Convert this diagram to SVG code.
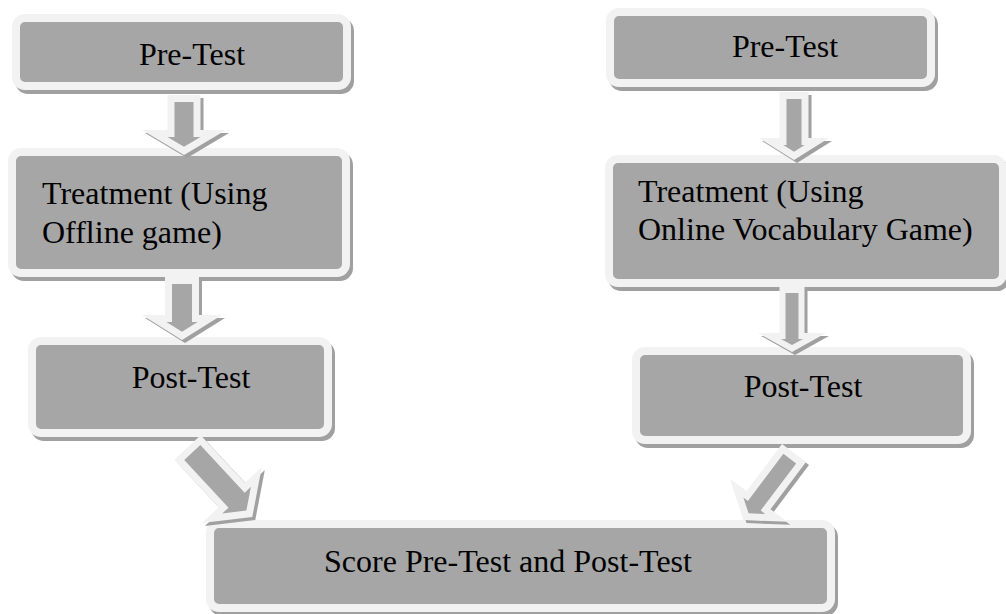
<svg xmlns="http://www.w3.org/2000/svg" width="1006" height="614" viewBox="0 0 1006 614">
<style>
.bs{fill:#a0a0a0;stroke:#a0a0a0;stroke-width:8}
.bx{fill:#a6a6a6;stroke:#f2f2f2;stroke-width:8}
.ash{fill:#a0a0a0}
.ao{fill:#f2f2f2}
.ai{fill:#a6a6a6}
.t{font-family:"Liberation Serif","Times New Roman",serif;font-size:32px;fill:#000}
</style>
<rect width="1006" height="614" fill="#ffffff"/>
<g id="nodes">
<g id="n-pre-left">
<rect class="bs" x="19" y="22" width="331" height="68" rx="9"/>
<rect class="bx" x="16" y="18" width="331" height="68" rx="9"/>
<text class="t" x="192" y="65" text-anchor="middle">Pre-Test</text>
</g>
<g id="n-treat-left">
<rect class="bs" x="15" y="156" width="334" height="121" rx="9"/>
<rect class="bx" x="12" y="152" width="334" height="121" rx="9"/>
<text class="t" x="42" y="204">Treatment (Using</text>
<text class="t" x="42" y="243">Offline game)</text>
</g>
<g id="n-post-left">
<rect class="bs" x="35" y="345" width="296" height="92" rx="9"/>
<rect class="bx" x="32" y="341" width="296" height="92" rx="9"/>
<text class="t" x="191" y="388" text-anchor="middle">Post-Test</text>
</g>
<g id="n-pre-right">
<rect class="bs" x="613" y="16" width="321" height="71" rx="9"/>
<rect class="bx" x="610" y="12" width="321" height="71" rx="9"/>
<text class="t" x="785" y="57" text-anchor="middle">Pre-Test</text>
</g>
<g id="n-treat-right">
<rect class="bs" x="612" y="163" width="394" height="124" rx="9"/>
<rect class="bx" x="609" y="159" width="394" height="124" rx="9"/>
<text class="t" x="638" y="202">Treatment (Using</text>
<text class="t" x="638" y="240">Online Vocabulary Game)</text>
</g>
<g id="n-post-right">
<rect class="bs" x="639" y="355" width="331" height="89" rx="9"/>
<rect class="bx" x="636" y="351" width="331" height="89" rx="9"/>
<text class="t" x="803" y="397" text-anchor="middle">Post-Test</text>
</g>
<g id="n-score">
<rect class="bs" x="213" y="528" width="621" height="84" rx="9"/>
<rect class="bx" x="210" y="524" width="621" height="84" rx="9"/>
<text class="t" x="508" y="572" text-anchor="middle">Score Pre-Test and Post-Test</text>
</g>
</g>
<g id="connectors">
<g transform="translate(187,98)"><polygon class="ash" points="-16.5,0 16.5,0 16.5,35 42,35 0,60 -42,35 -16.5,35"/></g>
<g transform="translate(184,95)">
<polygon class="ao" points="-16.5,0 16.5,0 16.5,35 42,35 0,60 -42,35 -16.5,35"/>
<polygon class="ai" points="-9.5,7 9.5,7 9.5,42 16.5,42 0,51.8 -16.5,42 -9.5,42"/>
</g>
<g transform="translate(185,280)"><polygon class="ash" points="-17,0 17,0 17,38 40,38 0,63 -40,38 -17,38"/></g>
<g transform="translate(182,277)">
<polygon class="ao" points="-17,0 17,0 17,38 40,38 0,63 -40,38 -17,38"/>
<polygon class="ai" points="-10,7 10,7 10,45 15.6,45 0,54.7 -15.6,45 -10,45"/>
</g>
<g transform="translate(797,95)"><polygon class="ash" points="-14.5,0 14.5,0 14.5,46 35,46 0,68 -35,46 -14.5,46"/></g>
<g transform="translate(794,92)">
<polygon class="ao" points="-14.5,0 14.5,0 14.5,46 35,46 0,68 -35,46 -14.5,46"/>
<polygon class="ai" points="-7.5,7 7.5,7 7.5,53 10.7,53 0,59.7 -10.7,53 -7.5,53"/>
</g>
<g transform="translate(795,290)"><polygon class="ash" points="-12.5,0 12.5,0 12.5,46 34,46 0,65 -34,46 -12.5,46"/></g>
<g transform="translate(792,287)">
<polygon class="ao" points="-12.5,0 12.5,0 12.5,46 34,46 0,65 -34,46 -12.5,46"/>
<polygon class="ai" points="-6.5,6 6.5,6 6.5,52 11,52 0,58.1 -11,52 -6.5,52"/>
</g>
<g transform="translate(190.5,450.5) rotate(-43)"><polygon class="ash" points="-18,0 18,0 18,65 41,65 0,95 -41,65 -18,65"/></g>
<g transform="translate(187.5,447.5) rotate(-43)">
<polygon class="ao" points="-18,0 18,0 18,65 41,65 0,95 -41,65 -18,65"/>
<polygon class="ai" points="-11,7 11,7 11,72 19.6,72 0,86.3 -19.6,72 -11,72"/>
</g>
<g transform="translate(797,456) rotate(37)"><polygon class="ash" points="-15,0 15,0 15,59 36,59 0,84 -36,59 -15,59"/></g>
<g transform="translate(794,453) rotate(37)">
<polygon class="ao" points="-15,0 15,0 15,59 36,59 0,84 -36,59 -15,59"/>
<polygon class="ai" points="-8,7 8,7 8,66 13.7,66 0,75.5 -13.7,66 -8,66"/>
</g>
</g>
</svg>
